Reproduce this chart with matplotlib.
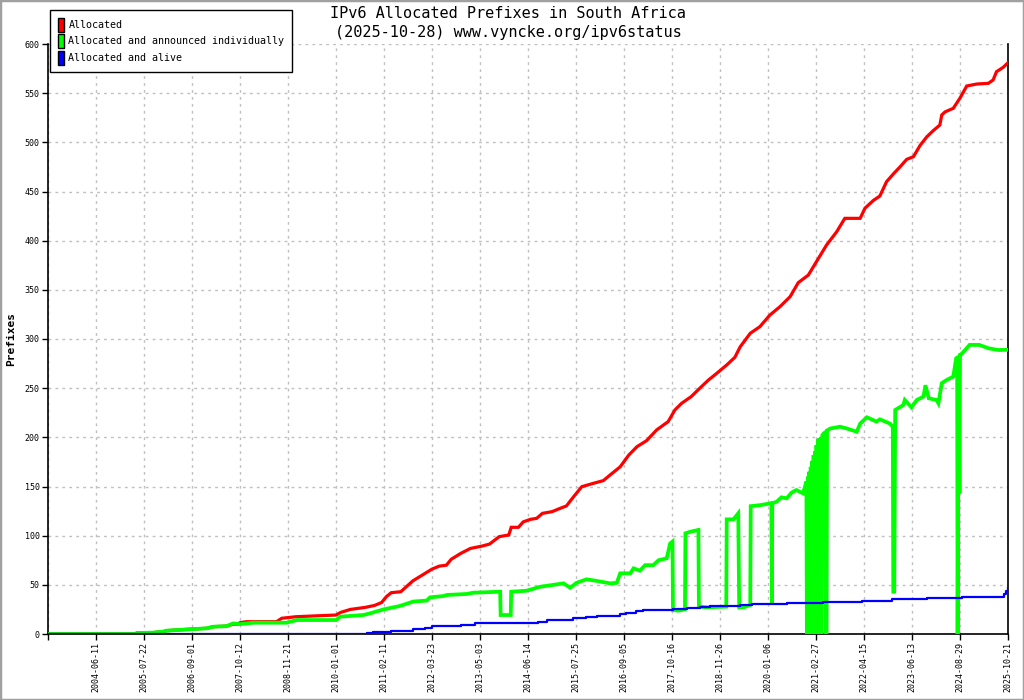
import matplotlib
matplotlib.use("Agg")
import matplotlib.pyplot as plt
from matplotlib.patches import Patch, Rectangle

# ---- data (x in tick-units: 0 = left edge, each unit = one dated tick) ----
tick_labels = ["", "2004-06-11", "2005-07-22", "2006-09-01", "2007-10-12", "2008-11-21",
               "2010-01-01", "2011-02-11", "2012-03-23", "2013-05-03", "2014-06-14",
               "2015-07-25", "2016-09-05", "2017-10-16", "2018-11-26", "2020-01-06",
               "2021-02-27", "2022-04-15", "2023-06-13", "2024-08-29", "2025-10-21"]

alloc_x = [0, 1.83, 1.85, 2.19, 2.40, 2.47, 2.68, 2.89, 3.31, 3.44, 3.72, 3.86, 3.95,
           4.0, 4.13, 4.76, 4.87, 5.17, 6.0,
           6.1, 6.3, 6.6, 6.8, 6.95, 7.05, 7.15, 7.35, 7.6, 7.8, 8.0, 8.15, 8.3, 8.4, 8.6,
           8.8, 9.05, 9.2, 9.4, 9.6, 9.65, 9.8, 9.9, 10.05, 10.18, 10.3, 10.5, 10.67, 10.8,
           10.95, 11.12, 11.36, 11.57, 11.71, 11.92, 12.1, 12.27, 12.47, 12.68, 12.92,
           13.06, 13.2, 13.4, 13.58, 13.76, 13.93, 14.14, 14.31, 14.42, 14.63, 14.83,
           15.04, 15.25, 15.46, 15.63, 15.84, 16.01, 16.22, 16.43, 16.6, 16.92, 17.02,
           17.19, 17.33, 17.47, 17.61, 17.75, 17.89, 18.03, 18.17, 18.31, 18.44, 18.58,
           18.62, 18.69, 18.86, 19.0, 19.14, 19.35, 19.59, 19.69, 19.76, 19.9, 20.0]
alloc_y = [0, 0, 1, 1.4, 2.4, 3.4, 4, 4.7, 5.8, 7.4, 8, 10, 10,
           11.5, 12.5, 12.5, 16, 17.6, 19.3,
           22, 25, 27, 29, 32, 38, 42, 43, 54, 60, 66, 69, 70, 76, 82,
           87, 89.5, 91.5, 99, 100.7, 108.5, 108.5, 114, 116.6, 117.6, 122.7, 124.4, 127.8, 130.2,
           139.6, 149.8, 153.2, 156, 161.7, 170, 182, 190.5, 196.6, 207.5, 216,
           227.8, 234.6, 241.4, 250, 258.3, 265, 273.6, 281.4, 292, 305.8, 312.5,
           324.4, 332.9, 343, 357.3, 365, 378.7, 395.6, 409, 422.7, 422.7, 433,
           440.7, 445.4, 460, 467.8, 475, 482.7, 485.4, 497, 505.7, 511.8, 517.6,
           527.8, 531, 534.6, 545, 557.3, 559.3, 560, 563.4, 571.8, 576.3, 581]

announced_x = [0, 1.83, 1.85, 2.19, 2.40, 2.47, 2.68, 2.89, 3.31, 3.44, 3.72, 3.86, 4.0,
               4.28, 4.97, 5.18, 6.01, 6.08, 6.57, 6.71, 6.99, 7.33, 7.61, 7.89, 7.96, 8.24,
               8.31, 8.72, 8.86, 9.42, 9.43, 9.64, 9.65, 9.97, 10.25, 10.74, 10.88, 11.01,
               11.22, 11.43, 11.71, 11.85, 11.92, 12.13, 12.2, 12.33, 12.44, 12.61, 12.72,
               12.89, 12.96, 13.01, 13.02, 13.13, 13.27, 13.28, 13.38, 13.55, 13.56, 13.72,
               14.13, 14.14, 14.28, 14.38, 14.40, 14.49, 14.63, 14.64, 14.83, 15.07, 15.08,
               15.09, 15.18, 15.28, 15.39, 15.49, 15.59, 15.73, 15.80,
               15.81, 15.83, 15.84, 15.86, 15.87, 15.89, 15.90, 15.92, 15.93, 15.95, 15.96,
               15.98, 15.99, 16.01, 16.02, 16.04, 16.05, 16.07, 16.08, 16.10, 16.11, 16.13,
               16.16, 16.19, 16.20, 16.22, 16.23, 16.3, 16.5, 16.64, 16.85, 16.92, 17.06,
               17.26, 17.33, 17.54, 17.6, 17.61, 17.63, 17.65, 17.82, 17.85, 17.99, 18.1,
               18.24, 18.28, 18.35, 18.51, 18.55, 18.62, 18.72, 18.86, 18.92, 18.94, 18.95,
               18.97, 18.99, 19.0, 19.03, 19.2, 19.4, 19.6, 19.8, 20.0]
announced_y = [0, 0, 1, 1.4, 2.4, 3.4, 4, 4.7, 5.8, 7.4, 8, 10.8, 10,
               11.5, 11.5, 14.2, 14.2, 17.6, 19.3, 21, 25, 28.5, 33, 34, 37.3, 38.6,
               39.7, 40.7, 42, 43, 19.3, 19.3, 43, 44, 48, 51.5, 47, 52,
               55.6, 54, 51.5, 52, 61.7, 61.7, 66.8, 64.4, 70, 70, 75,
               77, 92, 94, 24.4, 23.7, 25, 102.4, 104, 105.8, 27.8, 27.1,
               27.8, 116.6, 116.6, 122.7, 27, 27.1, 29.5, 130, 131, 133, 31.2,
               133, 134.5, 139, 138, 143.7, 146.4, 143, 155,
               0, 160, 0, 165, 0, 170, 0, 176, 0, 182, 0,
               186, 0, 192, 0, 198, 0, 199, 0, 200, 0, 202,
               204, 205, 0, 0, 207, 209, 210.8, 209, 205.7, 214, 220.4,
               216, 218.3, 214, 210.8, 43, 43, 227.8, 232.9, 238, 230.5, 238,
               241.4, 253, 239.7, 238, 234.6, 255, 258.3, 261.7, 280.4, 281, 0,
               282, 143, 284, 284.7, 294, 294, 290.5, 288.8, 289]

alive_x = [0, 6.63, 6.64, 6.78, 7.15, 7.6, 7.85, 8.0, 8.6, 8.9, 9.5, 10.2, 10.39, 10.94,
           11.2, 11.43, 11.92, 12.05, 12.26, 12.4, 13.03, 13.31, 13.58, 13.79, 14.42,
           14.66, 15.39, 16.15, 16.95, 17.58, 18.31, 19.04, 19.89, 19.92, 19.96, 20.0]
alive_y = [0, 0, 1, 2.5, 3.5, 4.7, 6.5, 8, 9.5, 10.8, 11.5, 12.5, 14.5, 16,
           17, 18.3, 20, 21, 23.5, 24.5, 25, 26, 27.5, 28.8, 29.8,
           31, 31.7, 32.9, 33.9, 35.3, 36.3, 37.3, 38, 41, 44, 47]

y_ticks = list(range(0, 601, 50))

title_lines = ["IPv6 Allocated Prefixes in South Africa",
               "(2025-10-28) www.vyncke.org/ipv6status"]
series_labels = ["Allocated", "Allocated and announced individually", "Allocated and alive"]
series_colors = ["#ff0000", "#00ff00", "#0000ff"]

# ---- figure ----
W, H = 1024, 700
fig = plt.figure(figsize=(W / 100, H / 100), dpi=100)
fig.patch.set_facecolor("white")
mono = "DejaVu Sans Mono"

ax = fig.add_axes([48 / W, 1 - 634 / H, 960 / W, 590 / H])
ax.set_xlim(0, 20)
ax.set_ylim(0, 600)

ax.plot(alloc_x, alloc_y, color=series_colors[0], lw=2.3, solid_joinstyle="miter", zorder=3)
ax.plot(announced_x, announced_y, color=series_colors[1], lw=2.7, solid_joinstyle="miter", zorder=4)
ax.plot(alive_x, alive_y, color=series_colors[2], lw=1.6, drawstyle="steps-post", zorder=5)

ax.set_xticks(range(len(tick_labels)))
ax.set_xticklabels(tick_labels, rotation=90, fontsize=6, family=mono)
ax.set_yticks(y_ticks)
ax.set_yticklabels([str(v) for v in y_ticks], fontsize=6, family=mono)
ax.tick_params(axis="both", direction="out", length=4, width=1, color="black", pad=2)

ax.grid(True, color="#c0c0c0", linestyle=(0, (2, 3)), linewidth=1.0, zorder=0)
ax.set_axisbelow(True)
ax.spines["top"].set_visible(False)
for s in ["left", "bottom", "right"]:
    ax.spines[s].set_color("black")
    ax.spines[s].set_linewidth(1.2)

ax.set_ylabel("Prefixes", fontsize=8, family=mono, fontweight="bold", labelpad=6)

fig.text(0.496, 1 - 14 / H, title_lines[0], ha="center", va="center", fontsize=11, family=mono)
fig.text(0.496, 1 - 32 / H, title_lines[1], ha="center", va="center", fontsize=11, family=mono)

handles = [Patch(facecolor=c, edgecolor="black", linewidth=1) for c in series_colors]
leg = fig.legend(handles, series_labels, loc="upper left",
                 bbox_to_anchor=(50 / W, 1 - 10 / H), borderaxespad=0,
                 prop={"family": mono, "size": 7.2}, frameon=True, fancybox=False,
                 edgecolor="black", framealpha=1, handlelength=0.6, handleheight=1.8,
                 handletextpad=0.5, labelspacing=0.25, borderpad=0.75)
leg.get_frame().set_linewidth(1.0)

fig.add_artist(Rectangle((0, 0), 1, 1, transform=fig.transFigure, fill=False,
                         edgecolor="#a0a0a0", linewidth=2.5))

fig.savefig("out.png", dpi=100)
